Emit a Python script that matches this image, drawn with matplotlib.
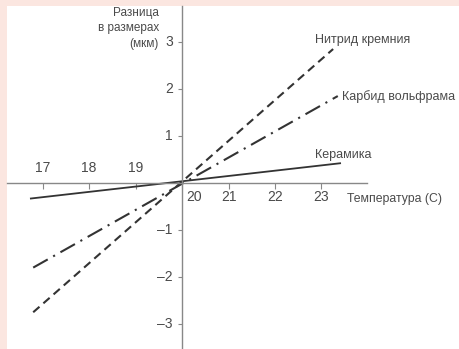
import matplotlib
matplotlib.use("Agg")
import matplotlib.pyplot as plt

# ---- data ----
series_names = ["Нитрид кремния", "Карбид вольфрама", "Керамика"]
x_start = [16.8, 16.8, 16.75]
x_end = [23.25, 23.35, 23.4]
y_start = [-2.75, -1.8, -0.33]
y_end = [2.85, 1.85, 0.42]
x_ticks = [17, 18, 19, 20, 21, 22, 23]
x_tick_labels = ["17", "18", "19", "20", "21", "22", "23"]
y_ticks = [-3, -2, -1, 1, 2, 3]
y_tick_labels = ["–3", "–2", "–1", "1", "2", "3"]
x_label = "Температура (С)"
y_label = "Разница\nв размерах\n(мкм)"

plt.rcParams['font.family'] = ['Liberation Sans', 'DejaVu Sans']

W, H = 460, 349
fig = plt.figure(figsize=(W / 100, H / 100), dpi=100)
fig.patch.set_facecolor("#fbe6e0")
ax = fig.add_axes([7 / W, 0, (W - 7) / W, (H - 6) / H])
ax.set_facecolor("white")

# pixel mapping: x=20 at px 182, 46.5 px/unit; y=0 at px 183, 47 px/unit
ax.set_xlim(20 + (7 - 182) / 46.5, 20 + (460 - 182) / 46.5)
ax.set_ylim(-(349 - 183) / 47, (183 - 6) / 47)

col = "#333333"
tcol = "#4a4a4a"
styles = [dict(linestyle=(0, (4, 2.5)), lw=1.5),
          dict(linestyle=(0, (8, 3, 1, 3)), lw=1.5),
          dict(linestyle="-", lw=1.3)]
for i in range(3):
    ax.plot([x_start[i], x_end[i]], [y_start[i], y_end[i]], color=col, **styles[i])

for s in ["top", "right"]:
    ax.spines[s].set_visible(False)
ax.spines["left"].set_position(("data", 20))
ax.spines["bottom"].set_position(("data", 0))
ax.spines["bottom"].set_bounds(ax.get_xlim()[0], 20 + (367 - 182) / 46.5)
for s in ["left", "bottom"]:
    ax.spines[s].set_color("#888888")
    ax.spines[s].set_linewidth(1.0)

ax.set_xticks(x_ticks)
ax.set_xticklabels([])
ax.set_yticks(y_ticks)
ax.set_yticklabels([])
ax.tick_params(axis="x", direction="out", length=4, color="#888888", width=0.8)
ax.tick_params(axis="y", direction="out", length=3, color="#888888", width=0.8)

fs = 10
for xv, lab in zip(x_ticks, x_tick_labels):
    if xv < 20:
        ax.text(xv, 0.17, lab, ha="center", va="bottom", fontsize=fs, color=tcol)
    else:
        ax.text(xv + (0.25 if xv == 20 else 0), -0.15, lab, ha="center", va="top",
                fontsize=fs, color=tcol)
for yv, lab in zip(y_ticks, y_tick_labels):
    ax.text(19.8, yv, lab, ha="right", va="center", fontsize=fs, color=tcol)

ax.text(23.55, -0.33, x_label, ha="left", va="center", fontsize=8.8, color=tcol)
ax.text(19.5, 3.75, y_label, ha="right", va="top", fontsize=8.5, color=tcol,
        linespacing=1.4)

lab_pos = [(22.85, 3.05), (23.45, 1.83), (22.85, 0.6)]
for name, (lx, ly) in zip(series_names, lab_pos):
    ax.text(lx, ly, name, ha="left", va="center", fontsize=9, color=tcol)

fig.savefig("out.png", dpi=100, facecolor=fig.get_facecolor())
